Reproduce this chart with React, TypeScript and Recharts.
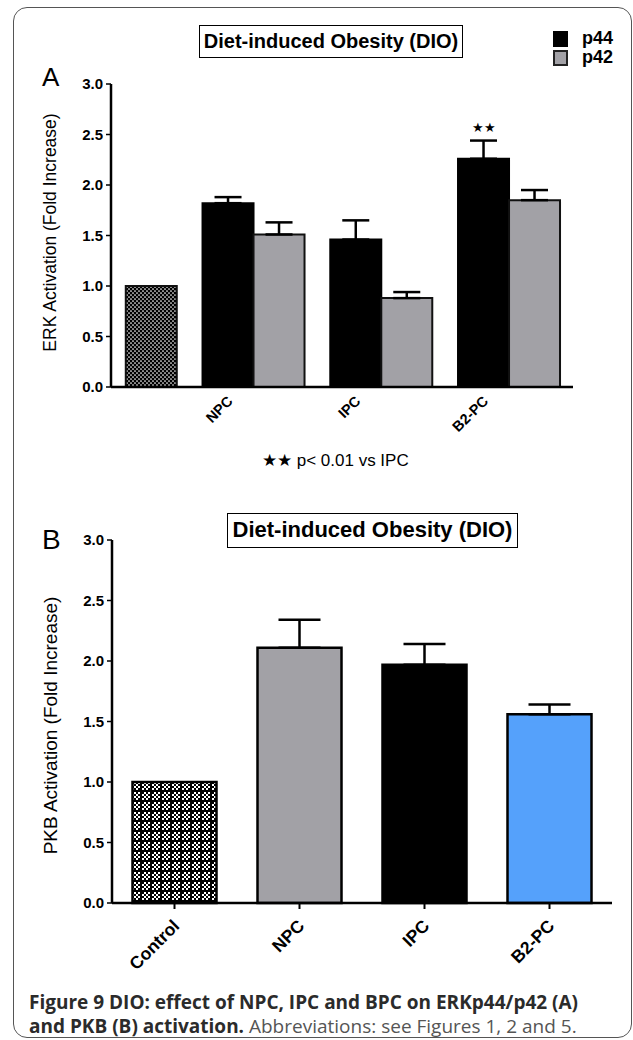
import React from "react";
import { Bar, BarChart, Cell, ErrorBar, LabelList, XAxis, YAxis } from "recharts";

const categories = ["Control", "NPC", "IPC", "B2-PC"];
const erkP44 = [null, 1.82, 1.46, 2.26];
const erkP44Err = [null, 0.06, 0.19, 0.18];
const erkP42 = [1.0, 1.51, 0.88, 1.85];
const erkP42Err = [null, 0.12, 0.06, 0.1];
const erkSig = ["", "", "", "★★"];
const pkb = [1.0, 2.11, 1.97, 1.56];
const pkbErr = [null, 0.23, 0.17, 0.08];
const yTicks = [0, 0.5, 1, 1.5, 2, 2.5, 3];

const GRAY = "#a2a1a6";
const BLUE = "#55a1fb";
const FONT = "'Liberation Sans', Arial, Helvetica, sans-serif";

// one-sided (upper) error bars
const up = (e: number | null) => (e == null ? null : [0, e]);

const erkData = categories.map((name, i) => ({
  name,
  p44: erkP44[i],
  p44Err: up(erkP44Err[i]),
  p42: erkP42[i],
  p42Err: up(erkP42Err[i]),
  sig: erkSig[i],
}));

const pkbData = categories.map((name, i) => ({ name, value: pkb[i], err: up(pkbErr[i]) }));
const pkbFills = ["url(#checkB)", GRAY, "#000", BLUE];

const tickStyle = { fill: "#000", fontSize: 15, fontWeight: 700, fontFamily: FONT };

function TickA(props: any) {
  const { x, y, payload } = props;
  if (payload.value === "Control") return <g />;
  return (
    <text
      transform={`translate(${x - 20},${y + 15}) rotate(-45)`}
      textAnchor="end"
      fontSize={14.5}
      fontWeight={700}
      fontFamily={FONT}
      fill="#000"
    >
      {payload.value}
    </text>
  );
}

function TickB(props: any) {
  const { x, y, payload } = props;
  return (
    <text
      transform={`translate(${x + 6},${y + 16}) rotate(-45)`}
      textAnchor="end"
      fontSize={17.5}
      fontWeight={700}
      fontFamily={FONT}
      fill="#000"
    >
      {payload.value}
    </text>
  );
}

function Stars(props: any) {
  const { x, y, width, value } = props;
  if (!value) return null;
  return (
    <text x={x + width / 2} y={y - 27} textAnchor="middle" fontSize={13} fontFamily={FONT} fill="#000">
      {value}
    </text>
  );
}

function checkerRects() {
  const out = [];
  for (let i = 0; i < 5; i++)
    for (let j = 0; j < 5; j++)
      if ((i + j) % 2 === 0) out.push(<rect key={`${i}-${j}`} x={i * 2} y={j * 2} width={2} height={2} fill="#000" />);
  return out;
}

const abs = (s: React.CSSProperties): React.CSSProperties => ({ position: "absolute", ...s });

export default function App() {
  return (
    <div style={abs({ left: 0, top: 0, width: 633, height: 1040, background: "#fff", overflow: "hidden", fontFamily: FONT })}>
      <div
        style={abs({
          left: 13,
          top: 7,
          width: 619,
          height: 1031,
          border: "1.5px solid #555",
          borderRadius: 14,
          boxSizing: "border-box",
        })}
      />

      {/* panel A */}
      <div style={abs({ left: 0, top: 0 })}>
        <BarChart
          width={633}
          height={440}
          data={erkData}
          margin={{ top: 84, right: 60, bottom: 3, left: 51 }}
          barCategoryGap="10%"
          barGap={0}
        >
          <defs>
            <pattern id="hatchA" width={4} height={4} patternUnits="userSpaceOnUse">
              <rect width={4} height={4} fill="#000" />
              <circle cx={1} cy={1} r={0.85} fill="#fff" />
              <circle cx={3} cy={3} r={0.85} fill="#fff" />
            </pattern>
          </defs>
          <XAxis
            dataKey="name"
            height={50}
            padding={{ left: -49, right: 0 }}
            tickLine={false}
            tickSize={0}
            tickMargin={0}
            axisLine={{ stroke: "#000", strokeWidth: 2.5 }}
            tick={<TickA />}
            interval={0}
          />
          <YAxis
            width={60}
            domain={[0, 3]}
            ticks={yTicks}
            tickFormatter={(v: number) => v.toFixed(1)}
            tick={tickStyle}
            tickSize={5}
            tickMargin={3}
            tickLine={{ stroke: "#000", strokeWidth: 1.5 }}
            axisLine={{ stroke: "#000", strokeWidth: 2.5 }}
            label={{
              value: "ERK Activation (Fold Increase)",
              angle: -90,
              position: "insideLeft",
              offset: -1,
              dy: -3,
              style: { textAnchor: "middle", fontSize: 17.5, fill: "#000", fontFamily: FONT },
            }}
          />
          <Bar dataKey="p44" fill="#000" stroke="#000" strokeWidth={2} isAnimationActive={false}>
            <ErrorBar dataKey="p44Err" width={13.5} stroke="#000" strokeWidth={2.5} direction="y" />
            <LabelList dataKey="sig" content={<Stars />} />
          </Bar>
          <Bar dataKey="p42" fill={GRAY} stroke="#111" strokeWidth={2} isAnimationActive={false}>
            {erkData.map((d, i) => (
              <Cell key={d.name} fill={i === 0 ? "url(#hatchA)" : GRAY} />
            ))}
            <ErrorBar dataKey="p42Err" width={13.5} stroke="#000" strokeWidth={2.5} direction="y" />
          </Bar>
        </BarChart>
      </div>

      <div style={abs({ left: 42, top: 62, fontSize: 26, lineHeight: "30px" })}>A</div>
      <div
        style={abs({
          left: 199,
          top: 25,
          width: 264,
          height: 33,
          border: "1.5px solid #000",
          boxSizing: "border-box",
          fontSize: 20,
          fontWeight: 700,
          lineHeight: "30px",
          textAlign: "center",
          whiteSpace: "nowrap",
        })}
      >
        Diet-induced Obesity (DIO)
      </div>

      <div style={abs({ left: 553, top: 31, width: 15, height: 16, background: "#000" })} />
      <div style={abs({ left: 553, top: 50, width: 15, height: 16, background: GRAY, border: "2px solid #222", boxSizing: "border-box" })} />
      <div style={abs({ left: 582, top: 28, fontSize: 18, fontWeight: 700, lineHeight: "20px" })}>p44</div>
      <div style={abs({ left: 582, top: 47, fontSize: 18, fontWeight: 700, lineHeight: "20px" })}>p42</div>

      <div style={abs({ left: 262, top: 451, fontSize: 17, lineHeight: "20px", whiteSpace: "nowrap" })}>
        ★★ p&lt; 0.01 vs IPC
      </div>

      {/* panel B */}
      <div style={abs({ left: 0, top: 480 })}>
        <BarChart
          width={633}
          height={520}
          data={pkbData}
          margin={{ top: 60, right: 21, bottom: 37, left: 52 }}
          barCategoryGap="16.4%"
        >
          <defs>
            <pattern id="checkB" width={10} height={10} patternUnits="userSpaceOnUse">
              <rect width={10} height={10} fill="#fff" />
              {checkerRects()}
              <rect width={10} height={2} fill="#000" />
              <rect width={2} height={10} fill="#000" />
            </pattern>
          </defs>
          <XAxis
            dataKey="name"
            height={60}
            tickSize={6}
            tickMargin={2}
            tickLine={{ stroke: "#000", strokeWidth: 2 }}
            axisLine={{ stroke: "#000", strokeWidth: 2.5 }}
            tick={<TickB />}
            interval={0}
          />
          <YAxis
            width={60}
            domain={[0, 3]}
            ticks={yTicks}
            tickFormatter={(v: number) => v.toFixed(1)}
            tick={tickStyle}
            tickSize={5}
            tickMargin={3}
            tickLine={{ stroke: "#000", strokeWidth: 1.5 }}
            axisLine={{ stroke: "#000", strokeWidth: 2.5 }}
            label={{
              value: "PKB Activation (Fold Increase)",
              angle: -90,
              position: "insideLeft",
              offset: -2,
              dy: 4,
              style: { textAnchor: "middle", fontSize: 19, fill: "#000", fontFamily: FONT },
            }}
          />
          <Bar dataKey="value" stroke="#000" strokeWidth={2.5} isAnimationActive={false}>
            {pkbData.map((d, i) => (
              <Cell key={d.name} fill={pkbFills[i]} />
            ))}
            <ErrorBar dataKey="err" width={21} stroke="#000" strokeWidth={2.5} direction="y" />
          </Bar>
        </BarChart>
      </div>

      <div style={abs({ left: 42, top: 524, fontSize: 28, lineHeight: "32px" })}>B</div>
      <div
        style={abs({
          left: 227,
          top: 513,
          width: 291,
          height: 35,
          border: "1.5px solid #000",
          boxSizing: "border-box",
          fontSize: 22,
          fontWeight: 700,
          lineHeight: "32px",
          textAlign: "center",
          whiteSpace: "nowrap",
        })}
      >
        Diet-induced Obesity (DIO)
      </div>

      <div
        style={abs({
          left: 29,
          top: 990,
          width: 600,
          fontFamily: "'Open Sans', 'Noto Sans', sans-serif",
          fontSize: 19,
          lineHeight: "24px",
          color: "#2b2b2b",
          whiteSpace: "nowrap",
        })}
      >
        <b>Figure 9 DIO: effect of NPC, IPC and BPC on ERKp44/p42 (A)</b>
        <br />
        <b>and PKB (B) activation.</b> <span style={{ color: "#555" }}>Abbreviations: see Figures 1, 2 and 5.</span>
      </div>
    </div>
  );
}
